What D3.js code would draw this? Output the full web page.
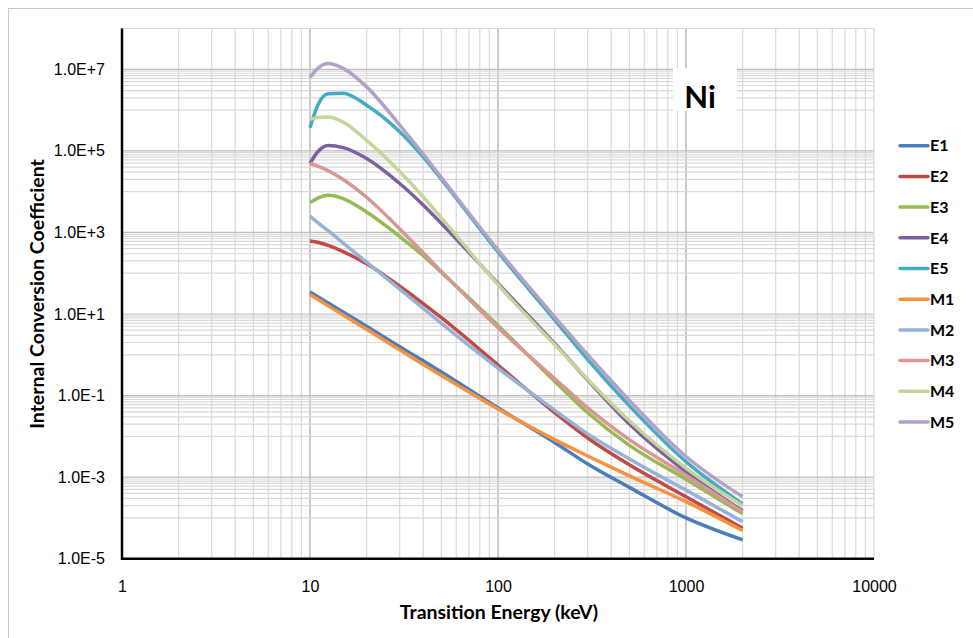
<!DOCTYPE html>
<html>
<head>
<meta charset="utf-8">
<script src="https://cdn.jsdelivr.net/npm/d3@7"></script>
<style>
  body { margin: 0; background: #fff; }
  svg { display: block; }
</style>
</head>
<body>
<div id="chart"></div>
<script>
// transition energies (keV) where the curves were read
const energies = [10, 11, 12.5, 15, 20, 30, 40, 50, 100, 200, 300, 500, 1000, 2000];

const seriesNames = ['E1', 'E2', 'E3', 'E4', 'E5', 'M1', 'M2', 'M3', 'M4', 'M5'];

const e1 = [34.7, 26.3, 18.6, 11.2, 5.0, 1.58, 0.71, 0.38, 0.050, 7.1e-3, 2.1e-3, 5.6e-4, 1.0e-4, 2.9e-5];
const e2 = [617, 575, 479, 339, 170, 47.9, 18.0, 8.1, 0.56, 0.038, 9.1e-3, 2.0e-3, 3.3e-4, 5.6e-5];
const e3 = [5370, 6920, 8130, 6760, 3160, 794, 269, 105, 5.2, 0.224, 0.038, 6.0e-3, 8.9e-4, 1.26e-4];
const e4 = [4.9e4, 9.5e4, 1.35e5, 1.2e5, 6.5e4, 1.58e4, 4700, 1660, 56, 1.9, 0.24, 0.020, 1.35e-3, 1.5e-4];
const e5 = [3.7e5, 1.32e6, 2.5e6, 2.6e6, 1.32e6, 2.95e5, 7.1e4, 2.0e4, 331, 7.2, 0.76, 0.056, 2.4e-3, 2.2e-4];
const m1 = [30.2, 22.9, 15.8, 9.5, 4.2, 1.32, 0.58, 0.31, 0.047, 8.3e-3, 3.3e-3, 1.07e-3, 2.5e-4, 4.9e-5];
const m2 = [2510, 1740, 1100, 550, 186, 40.7, 13.8, 5.9, 0.47, 0.044, 0.0115, 2.8e-3, 4.8e-4, 8.1e-5];
const m3 = [4.9e4, 4.2e4, 3.26e4, 1.99e4, 7280, 1220, 316, 111, 4.6, 0.263, 0.050, 8.3e-3, 1.12e-3, 1.41e-4];
const m4 = [5.9e5, 6.6e5, 6.8e5, 5.1e5, 1.8e5, 3.1e4, 7400, 2270, 52, 1.78, 0.25, 0.024, 1.66e-3, 2.0e-4];
const m5 = [6.3e6, 1.05e7, 1.38e7, 1.05e7, 3.7e6, 4.3e5, 8.3e4, 2.2e4, 372, 8.5, 1.0, 0.076, 3.2e-3, 3.3e-4];

const xTicks = [1, 10, 100, 1000, 10000];
const yTicks = [1e-5, 1e-3, 1e-1, 1e1, 1e3, 1e5, 1e7];

const colors = ['#4a7ebb', '#be4b48', '#98b954', '#7d60a0', '#46aac5',
                '#f69240', '#95b3d7', '#d99694', '#c3d69b', '#b3a2c7'];

function expLabel(d) {
  const p = Math.round(Math.log10(d));
  return '1.0E' + (p < 0 ? '-' : '+') + Math.abs(p);
}

function drawChart() {
  const width = 973, height = 638;
  const plot = { left: 122, right: 874, top: 28.5, bottom: 558.7 };
  const allSeries = [e1, e2, e3, e4, e5, m1, m2, m3, m4, m5];

  const svg = d3.select('#chart').append('svg')
    .attr('width', width)
    .attr('height', height);

  // outer chart frame (only the top and left edges fall inside the picture)
  svg.append('rect')
    .attr('x', 8.5).attr('y', 8.5)
    .attr('width', width + 20).attr('height', height + 20)
    .attr('fill', '#fff')
    .attr('stroke', '#c8c8c8');

  const x = d3.scaleLog().domain([1, 10000]).range([plot.left, plot.right]);
  const y = d3.scaleLog().domain([1e-5, 1e8]).range([plot.bottom, plot.top]);

  const grid = svg.append('g');

  // vertical gridlines, every 2..9 of each decade
  const xMinor = [];
  for (let k = 0; k < 4; k++) {
    for (let m = 2; m <= 9; m++) xMinor.push(m * Math.pow(10, k));
  }
  grid.selectAll('.vx').data(xMinor).enter().append('line')
    .attr('x1', d => x(d)).attr('x2', d => x(d))
    .attr('y1', plot.top).attr('y2', plot.bottom)
    .attr('stroke', '#d9d9d9').attr('stroke-width', 1.2);
  grid.selectAll('.vX').data([10, 100, 1000]).enter().append('line')
    .attr('x1', d => x(d)).attr('x2', d => x(d))
    .attr('y1', plot.top).attr('y2', plot.bottom)
    .attr('stroke', '#a8a8a8').attr('stroke-width', 1.2);

  // horizontal gridlines: minor lines only in the decade below each label
  const yMinor = [];
  [-4, -2, 0, 2, 4, 6].forEach(e => {
    for (let m = 1; m <= 9; m++) yMinor.push(m * Math.pow(10, e));
  });
  grid.selectAll('.hy').data(yMinor).enter().append('line')
    .attr('x1', plot.left).attr('x2', plot.right)
    .attr('y1', d => y(d)).attr('y2', d => y(d))
    .attr('stroke', '#d9d9d9').attr('stroke-width', 1.2);
  grid.selectAll('.hY').data(yTicks.slice(1)).enter().append('line')
    .attr('x1', plot.left).attr('x2', plot.right)
    .attr('y1', d => y(d)).attr('y2', d => y(d))
    .attr('stroke', '#bdbdbd').attr('stroke-width', 1.2);

  // top and right edges of the plot area
  grid.append('line')
    .attr('x1', plot.left).attr('x2', plot.right)
    .attr('y1', plot.top).attr('y2', plot.top)
    .attr('stroke', '#d9d9d9').attr('stroke-width', 1.2);
  grid.append('line')
    .attr('x1', plot.right).attr('x2', plot.right)
    .attr('y1', plot.top).attr('y2', plot.bottom)
    .attr('stroke', '#d9d9d9').attr('stroke-width', 1.2);

  // "Ni" label with a white box behind it
  svg.append('rect')
    .attr('x', 673).attr('y', 68)
    .attr('width', 64).attr('height', 43)
    .attr('fill', '#fff');
  svg.append('text')
    .attr('x', 700).attr('y', 108)
    .attr('text-anchor', 'middle')
    .attr('font-family', 'Lato, "Open Sans", sans-serif')
    .attr('font-weight', 'bold')
    .attr('font-size', 31)
    .attr('fill', '#000')
    .text('Ni');

  // curves
  const line = d3.line()
    .x((d, i) => x(energies[i]))
    .y(d => y(d))
    .curve(d3.curveMonotoneX);

  svg.append('g').selectAll('path').data(allSeries).enter().append('path')
    .attr('fill', 'none')
    .attr('stroke', (d, i) => colors[i])
    .attr('stroke-width', 3.5)
    .attr('stroke-linejoin', 'round')
    .attr('d', line);

  // axes
  const yAxis = svg.append('g')
    .attr('transform', `translate(${plot.left},0)`)
    .call(d3.axisLeft(y).tickValues(yTicks).tickFormat(expLabel).tickSize(0).tickPadding(17));
  yAxis.select('.domain').remove();
  yAxis.selectAll('text')
    .attr('font-family', '"Liberation Sans", Arial, sans-serif')
    .attr('font-size', 16)
    .attr('fill', '#000');

  const xAxis = svg.append('g')
    .attr('transform', `translate(0,${plot.bottom})`)
    .call(d3.axisBottom(x).tickValues(xTicks).tickFormat(d3.format('d')).tickSize(0).tickPadding(22));
  xAxis.select('.domain').remove();
  xAxis.selectAll('text')
    .attr('font-family', '"Liberation Sans", Arial, sans-serif')
    .attr('font-size', 16)
    .attr('fill', '#000');

  svg.append('line')
    .attr('x1', plot.left).attr('x2', plot.left)
    .attr('y1', plot.top).attr('y2', plot.bottom + 1)
    .attr('stroke', '#000').attr('stroke-width', 2.5);
  svg.append('line')
    .attr('x1', plot.left - 1).attr('x2', plot.right)
    .attr('y1', plot.bottom).attr('y2', plot.bottom)
    .attr('stroke', '#000').attr('stroke-width', 2.5);

  // axis titles
  svg.append('text')
    .attr('x', 499).attr('y', 619)
    .attr('text-anchor', 'middle')
    .attr('font-family', 'Lato, "Open Sans", sans-serif')
    .attr('font-weight', 'bold')
    .attr('font-size', 19.5)
    .attr('fill', '#000')
    .text('Transition Energy (keV)');
  svg.append('text')
    .attr('transform', 'translate(44,294) rotate(-90)')
    .attr('text-anchor', 'middle')
    .attr('font-family', 'Lato, "Open Sans", sans-serif')
    .attr('font-weight', 'bold')
    .attr('font-size', 19.5)
    .attr('fill', '#000')
    .text('Internal Conversion Coefficient');

  // legend
  const legend = svg.append('g').selectAll('g').data(seriesNames).enter().append('g')
    .attr('transform', (d, i) => `translate(900,${145.7 + i * 30.7})`);
  legend.append('line')
    .attr('x1', 0).attr('x2', 28)
    .attr('stroke', (d, i) => colors[i])
    .attr('stroke-width', 3.5)
    .attr('stroke-linecap', 'round');
  legend.append('text')
    .attr('x', 30).attr('dy', '0.36em')
    .attr('font-family', 'Lato, "Open Sans", sans-serif')
    .attr('font-weight', 'bold')
    .attr('font-size', 16)
    .attr('fill', '#000')
    .text(d => d);
}

drawChart();
</script>
</body>
</html>
